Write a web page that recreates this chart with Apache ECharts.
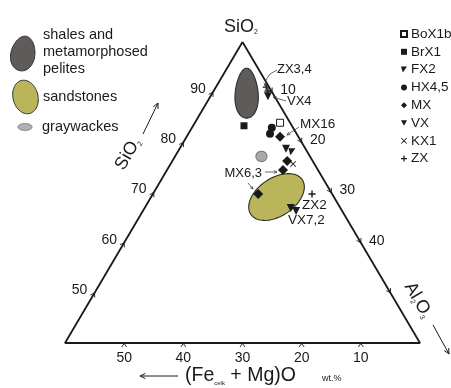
<!DOCTYPE html>
<html><head><meta charset="utf-8">
<script src="https://cdn.jsdelivr.net/npm/echarts@6/dist/echarts.min.js"></script>
<style>html,body{margin:0;padding:0;background:#fff}#c{width:451px;height:388px}</style>
</head><body><div id="c"></div>
<script>
// Ternary compositions: [SiO2, Al2O3, (Fe+Mg)O] wt.%
const sampleNames = ['BoX1b','BrX1','FX2','HX4,5','MX','VX','KX1','ZX'];
const BoX1b = [[83.9,14.4,1.7]];
const BrX1  = [[83.3,8.6,8.1]];
const FX2   = [[78.1,19.3,2.6]];
const HX45  = [[82.9,13.5,3.6],[81.7,13.8,4.5]];
const MX    = [[81.1,15.8,3.1],[76.3,19.4,4.3],[74.5,19.6,5.9],[69.7,17.8,12.5]];
const VX    = [[89.2,9.7,1.1],[78.7,18.0,3.3],[66.9,24.7,8.4],[66.3,25.9,7.8]];
const KX1   = [[75.7,20.7,3.6]];
const ZX    = [[91.0,8.5,0.5],[90.2,9.2,0.6],[69.7,26.9,3.4]];
const fieldNames   = ['shales and metamorphosed pelites','sandstones','graywackes'];
const fieldCenters = [[89.8,5.8,4.4],[69.1,21.2,9.7],[77.2,14.6,8.2]];
const corners = [[100,0,0],[40,60,0],[40,0,60],[100,0,0]];
const siTicks = [50,60,70,80,90];
const alTicks = [10,20,30,40,50];
const alTickLabels = ['10','20','30','40',''];
const feTicks = [50,40,30,20,10];

const FONT = '"Liberation Sans", Arial, sans-serif';
const INK = '#1a1a1a';
function toXY(t){ return [t[1] + t[0]/2, t[0]]; }
function ellPts(cx, cy, rx, ry, rotDeg, egg){
  const pts=[]; const r=rotDeg*Math.PI/180;
  for(let i=0;i<90;i++){
    const t=i/90*2*Math.PI;
    const ex=rx*Math.cos(t)*(1+egg*Math.sin(t)); const ey=ry*Math.sin(t);
    pts.push([cx+ex*Math.cos(r)-ey*Math.sin(r), cy+ex*Math.sin(r)+ey*Math.cos(r)]);
  }
  return pts;
}
const fieldStyle = [
  {rx:11.5, ry:25, rot:0, egg:0.18, fill:'#5f5b5b', stroke:'#2b2b2b'},
  {rx:31, ry:19, rot:-34, egg:0, fill:'#bab55b', stroke:'#2b2b2b'},
  {rx:5.5, ry:5.2, rot:0, egg:0, fill:'#a9a9a9', stroke:'#7a7a7a'}
];
function arrowHead(x1,y1,x2,y2,len){
  const a=Math.atan2(y2-y1,x2-x1); const s=0.45;
  return [[x2-len*Math.cos(a-s), y2-len*Math.sin(a-s)],[x2,y2],[x2-len*Math.cos(a+s), y2-len*Math.sin(a+s)]];
}
function arrow(pts, color, w, head){
  const n=pts.length; const a=pts[n-2], b=pts[n-1];
  return [
    {type:'polyline', shape:{points:pts}, style:{stroke:color, lineWidth:w, fill:null}, z:10},
    {type:'polyline', shape:{points:arrowHead(a[0],a[1],b[0],b[1],head)}, style:{stroke:color, lineWidth:w, fill:null}, z:10}
  ];
}
function txt(x,y,text,size,align,extra){
  return Object.assign({type:'text', x:x, y:y, z:10, style:Object.assign({text:text, fontSize:size, fontFamily:FONT, fill:INK,
    textAlign:align||'left', textVerticalAlign:'middle', align:align||'left', verticalAlign:'middle'}, extra||{})});
}
const subRich = (big, small) => ({a:{fontSize:big, fontFamily:FONT, fill:INK}, b:{fontSize:small, fontFamily:FONT, fill:INK, verticalAlign:'bottom'}});

const tickData = [
  ...siTicks.map(v => [...toXY([v,0,100-v]), 0, v]),
  ...alTicks.map((v,i) => [...toXY([100-v,v,0]), 1, i]),
  ...feTicks.map(v => [...toXY([40,60-v,v]), 2, v])
];

const sym = {
  flag:'path://M0,0L10,0L3,10Z',
  down:'path://M0,0L10,0L5,9Z',
  plus:'path://M4,0H6V4H10V6H6V10H4V6H0V4H4Z',
  cross:'path://M1,0L5,4L9,0L10,1L6,5L10,9L9,10L5,6L1,10L0,9L4,5L0,1Z'
};
const seriesDefs = [
  {name:'BoX1b', data:BoX1b, symbol:'rect', size:7, fill:'#fff', border:INK},
  {name:'BrX1', data:BrX1, symbol:'rect', size:7, fill:INK},
  {name:'FX2', data:FX2, symbol:sym.flag, size:7, fill:INK},
  {name:'HX4,5', data:HX45, symbol:'circle', size:8, fill:INK},
  {name:'MX', data:MX, symbol:'diamond', size:10, fill:INK},
  {name:'VX', data:VX, symbol:sym.down, size:8, fill:INK},
  {name:'KX1', data:KX1, symbol:sym.cross, size:6, fill:INK},
  {name:'ZX', data:ZX, symbol:sym.plus, size:7, fill:INK}
];

const chart = echarts.init(document.getElementById('c'), null, {renderer:'canvas'});
const graphics = [
  // left legend (field symbols)
  {type:'polygon', shape:{points:ellPts(23,53.5,12,17.5,10,0.1)}, style:{fill:'#5f5b5b', stroke:'#2b2b2b', lineWidth:1}},
  {type:'polygon', shape:{points:ellPts(25.5,97,12.5,17,-14,0)}, style:{fill:'#bab55b', stroke:'#2b2b2b', lineWidth:1}},
  {type:'polygon', shape:{points:ellPts(25,127,7,3.5,0,0)}, style:{fill:'#b0b0b0', stroke:'#7a7a7a', lineWidth:1}},
  txt(43,35,'shales and',14.5), txt(43,52,'metamorphosed',14.5), txt(43,69,'pelites',14.5),
  txt(43,97,'sandstones',14.5), txt(42,127,'graywackes',14.5),
  // apex title
  {type:'text', x:241, y:27, z:10, style:{text:'{a|SiO}{b|2}', rich:subRich(18,7), textAlign:'center', textVerticalAlign:'middle', align:'center', verticalAlign:'middle'}},
  // left axis title
  {type:'text', x:128, y:154, rotation:1.04, z:10, style:{text:'{a|SiO}{b|2}', rich:subRich(18,7), textAlign:'center', textVerticalAlign:'middle', align:'center', verticalAlign:'middle'}},
  ...arrow([[143,134],[158,103]], INK, 1, 6),
  // right axis title
  {type:'text', x:418, y:300, rotation:-1.04, z:10, style:{text:'{a|Al}{b|2}{a|O}{b|3}', rich:subRich(18,7), textAlign:'center', textVerticalAlign:'middle', align:'center', verticalAlign:'middle'}},
  ...arrow([[433,325],[449,354]], INK, 1, 6),
  // bottom axis title
  ...arrow([[178,376],[140,376]], INK, 1, 6),
  {type:'text', x:185, y:376, z:10, style:{text:'{a|(Fe}{b|celk}{a| + Mg)O}', rich:subRich(19.5,6), textAlign:'left', textVerticalAlign:'middle', align:'left', verticalAlign:'middle'}},
  txt(322,379,'wt.%',9),
  // annotations
  txt(277,69,'ZX3,4',13), ...arrow([[277,70],[270,74],[266,80],[265,86]], '#444', 0.8, 3.5),
  txt(287,101,'VX4',13), ...arrow([[286,101],[273,97]], '#444', 0.8, 3.5),
  txt(300,124,'MX16',13.5), ...arrow([[299,127],[287,135]], '#444', 0.8, 3.5),
  txt(262,173,'MX6,3',13,'right'), ...arrow([[265,172],[277,172]], '#444', 0.8, 3.5),
  ...arrow([[248,183],[253,189]], '#444', 0.8, 3),
  txt(302,205,'ZX2',13.5), txt(288,220,'VX7,2',13.5)
];

const series = [
  {type:'custom', name:'fields', z:1, silent:true,
   data: fieldCenters.map((t,i)=>[...toXY(t), i]),
   renderItem:(params, api)=>{
     const c=api.coord([api.value(0), api.value(1)]); const s=fieldStyle[api.value(2)];
     return {type:'polygon', shape:{points:ellPts(c[0],c[1],s.rx,s.ry,s.rot,s.egg)}, style:{fill:s.fill, stroke:s.stroke, lineWidth:1.1}};
   }},
  {type:'line', name:'frame', z:2, silent:true, data:corners.map(toXY), symbol:'none',
   lineStyle:{color:INK, width:1.8}, animation:false},
  {type:'custom', name:'ticks', z:2, silent:true, data:tickData,
   renderItem:(params, api)=>{
     const p=api.coord([api.value(0), api.value(1)]); const k=api.value(2); const v=api.value(3);
     let pts, lx, ly, label;
     if(k===0){ const d=[0.505,-0.863], n=[0.863,0.505];
       pts=[[p[0]-4*d[0]+2.5*n[0], p[1]-4*d[1]+2.5*n[1]],[p[0],p[1]],[p[0]-4*d[0]-2.5*n[0], p[1]-4*d[1]-2.5*n[1]]];
       lx=p[0]-15; ly=p[1]-3; label=String(v);
     } else if(k===1){ const d=[0.511,0.86], n=[-0.86,0.511];
       pts=[[p[0]-4*d[0]+2.5*n[0], p[1]-4*d[1]+2.5*n[1]],[p[0],p[1]],[p[0]-4*d[0]-2.5*n[0], p[1]-4*d[1]-2.5*n[1]]];
       lx=p[0]+16; ly=p[1]-2; label=alTickLabels[v];
     } else {
       pts=[[p[0]-2.5,p[1]+4],[p[0],p[1]+0.5],[p[0]+2.5,p[1]+4]];
       lx=p[0]; ly=p[1]+15; label=String(v);
     }
     return {type:'group', children:[
       {type:'polyline', shape:{points:pts}, style:{stroke:INK, lineWidth:0.9, fill:null}},
       {type:'text', x:lx, y:ly, style:{text:label, fontSize:14, fontFamily:FONT, fill:INK, textAlign:'center', textVerticalAlign:'middle', align:'center', verticalAlign:'middle'}}
     ]};
   }},
  ...seriesDefs.map(s => ({
    type:'scatter', name:s.name, z:3, data:s.data.map(toXY), symbol:s.symbol, symbolSize:s.size,
    itemStyle:{color:s.fill, borderColor:s.border||s.fill, borderWidth:s.border?1:0, opacity:1}
  }))
];

chart.setOption({
  animation:false,
  grid:{left:65, right:31, top:42, bottom:45},
  xAxis:{type:'value', min:20, max:80, show:false},
  yAxis:{type:'value', min:40, max:100, show:false},
  legend:{
    data:sampleNames, orient:'vertical', left:395, top:21, itemWidth:6, itemHeight:6, itemGap:1.8,
    selectedMode:false, textStyle:{fontSize:13.5, fontFamily:FONT, color:INK, lineHeight:16, padding:[0,0,0,-1]}
  },
  graphic:graphics,
  series:series
});
</script></body></html>
